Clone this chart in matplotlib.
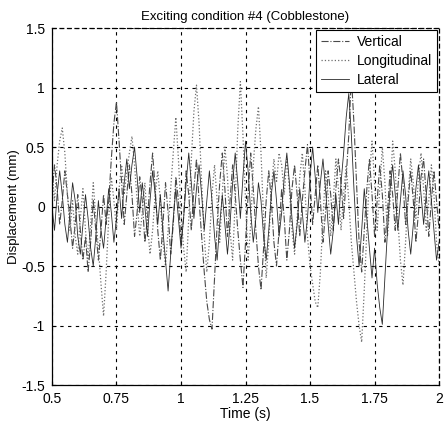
import numpy as np
import matplotlib
matplotlib.use("Agg")
import matplotlib.pyplot as plt

plt.rcParams['font.family'] = ['Liberation Sans Narrow', 'Liberation Sans', 'DejaVu Sans']

####################################################################
# Data (read off the scanned figure, sampled every 0.01 s)
####################################################################
t_start = 0.5
t_step = 0.01

vertical = [
    0.10, 0.35, 0.15, -0.15, 0.05, 0.30, 0.10, -0.10, -0.35, -0.15,
    0.10, -0.20, -0.45, -0.25, -0.55, -0.30, 0.05, -0.20, -0.45, -0.20,
    0.10, -0.15, 0.05, 0.40, 0.70, 0.88, 0.55, 0.20, -0.15, 0.10,
    0.35, 0.10, -0.25, -0.05, 0.25, 0.05, -0.30, -0.10, 0.20, 0.45,
    0.15, -0.20, -0.45, -0.15, 0.20, -0.05, -0.40, -0.15, 0.25, 0.05,
    -0.30, -0.10, 0.30, 0.10, -0.20, 0.15, 0.40, 0.05, -0.25, -0.55,
    -0.80, -0.95, -1.03, -0.60, -0.15, 0.20, 0.45, 0.15, -0.25, 0.05,
    0.35, 0.10, -0.20, -0.45, -0.68, -0.30, 0.10, 0.45, 0.15, -0.20,
    -0.50, -0.70, -0.35, 0.05, 0.30, 0.05, -0.30, -0.50, -0.20, 0.15,
    -0.10, -0.45, -0.20, 0.15, 0.35, 0.10, -0.25, 0.05, 0.30, 0.52,
    0.20, -0.15, 0.10, 0.35, 0.05, -0.30, -0.05, 0.30, 0.10, -0.20,
    0.15, 0.40, 0.20, -0.10, 0.25, 0.60, 1.10, 0.70, 0.20, -0.30,
    -0.55, -0.20, 0.15, 0.40, 0.10, -0.25, 0.05, 0.35, 0.10, -0.30,
    -0.05, 0.30, 0.10, -0.20, 0.15, 0.45, 0.20, -0.15, 0.05, 0.30,
    0.05, -0.30, -0.05, 0.25, 0.40, 0.10, -0.25, 0.05, 0.30, 0.05,
    -0.20,
]

longitudinal = [
    0.30, 0.05, 0.35, 0.55, 0.66, 0.45, 0.10, -0.20, 0.05, -0.25,
    -0.40, -0.10, 0.15, -0.20, -0.45, -0.15, 0.20, -0.10, -0.35, -0.65,
    -0.92, -0.55, -0.10, 0.25, 0.05, -0.20, 0.15, 0.35, 0.10, 0.30,
    0.45, 0.59, 0.35, 0.05, -0.25, -0.05, 0.20, -0.15, -0.40, -0.20,
    0.10, 0.30, 0.05, -0.30, -0.50, -0.20, 0.15, 0.45, 0.75, 0.40,
    -0.05, -0.35, -0.55, -0.10, 0.40, 0.80, 1.02, 0.70, 0.20, -0.25,
    -0.55, -0.30, 0.10, 0.35, 0.05, -0.30, 0.10, 0.50, 0.25, -0.20,
    -0.45, 0.05, 0.65, 1.05, 0.60, 0.05, -0.45, -0.15, 0.35, 0.65,
    0.84, 0.45, -0.10, -0.60, -0.30, 0.15, 0.40, 0.20, 0.45, 0.35,
    0.10, 0.40, 0.15, -0.20, -0.40, -0.10, 0.25, 0.45, 0.15, -0.25,
    -0.50, -0.65, -0.80, -0.85, -0.55, -0.10, 0.30, 0.10, -0.25, 0.05,
    0.40, 0.15, -0.20, 0.10, 0.35, 0.05, -0.30, -0.55, -0.80, -1.00,
    -1.14, -0.70, -0.20, 0.25, 0.55, 0.20, -0.20, 0.15, 0.50, 0.20,
    -0.25, 0.05, 0.55, 0.30, -0.10, -0.45, -0.66, -0.30, 0.10, 0.40,
    0.20, -0.10, 0.25, 0.45, 0.15, -0.20, 0.05, 0.35, 0.10, -0.30,
    -0.50,
]

lateral = [
    0.00, -0.20, 0.10, 0.30, 0.10, -0.15, -0.30, -0.05, 0.20, 0.05,
    -0.25, -0.40, -0.15, 0.10, -0.10, -0.35, -0.50, -0.25, 0.05, -0.20,
    -0.35, -0.10, 0.15, -0.05, -0.30, -0.10, 0.15, -0.10, 0.20, 0.40,
    0.15, 0.35, 0.50, 0.25, -0.05, 0.20, 0.00, -0.25, 0.05, 0.30,
    0.10, -0.15, 0.10, -0.20, -0.45, -0.71, -0.40, -0.10, 0.15, -0.10,
    -0.35, -0.10, 0.20, 0.45, 0.20, -0.10, 0.15, 0.35, 0.10, -0.20,
    0.05, 0.30, 0.05, -0.25, -0.45, -0.15, 0.10, -0.15, -0.40, -0.15,
    0.20, 0.45, 0.20, -0.10, 0.25, 0.55, 0.30, -0.05, -0.30, -0.10,
    0.20, 0.05, -0.25, -0.45, -0.20, 0.10, 0.30, 0.05, -0.25, -0.05,
    0.25, 0.45, 0.20, -0.10, -0.35, -0.15, 0.15, -0.05, -0.30, -0.10,
    0.25, 0.50, 0.25, -0.05, 0.20, 0.40, 0.15, -0.15, -0.40, -0.20,
    0.10, -0.15, 0.20, 0.45, 0.75, 0.95, 0.60, 0.15, -0.25, -0.50,
    -0.20, 0.15, -0.10, -0.35, -0.60, -0.35, -0.65, -0.85, -0.99, -0.60,
    -0.20, 0.15, 0.35, 0.10, -0.20, 0.05, 0.30, 0.10, -0.20, -0.40,
    -0.15, 0.15, 0.35, 0.10, -0.15, 0.10, 0.30, 0.05, -0.20, -0.45,
    -0.30,
]

x_ticks = [0.5, 0.75, 1, 1.25, 1.5, 1.75, 2]
x_tick_labels = ['0.5', '0.75', '1', '1.25', '1.5', '1.75', '2']
y_ticks = [-1.5, -1, -0.5, 0, 0.5, 1, 1.5]
y_tick_labels = ['-1.5', '-1', '-0.5', '0', '0.5', '1', '1.5']

####################################################################
# Plot
####################################################################
t = t_start + t_step * np.arange(len(vertical))

fig = plt.figure(figsize=(4.44, 4.25), dpi=100)
ax = fig.add_axes([0.117, 0.094, 0.872, 0.840])

ax.plot(t, vertical, linestyle='-.', color='#4a4a4a', linewidth=0.8, label='Vertical')
ax.plot(t, longitudinal, linestyle=':', color='#6e6e6e', linewidth=0.9, label='Longitudinal')
ax.plot(t, lateral, linestyle='-', color='#2a2a2a', linewidth=0.6, label='Lateral')

ax.set_xlim(0.5, 2)
ax.set_ylim(-1.5, 1.5)
ax.set_xticks(x_ticks)
ax.set_xticklabels(x_tick_labels)
ax.set_yticks(y_ticks)
ax.set_yticklabels(y_tick_labels)
ax.tick_params(direction='in', length=3, labelsize=10, pad=5)
ax.grid(True, linestyle=(0, (3, 4)), color='black', linewidth=0.8)

for side in ('top', 'right'):
    ax.spines[side].set_linestyle((0, (3, 3)))
for spine in ax.spines.values():
    spine.set_linewidth(0.9)

ax.set_title('Exciting condition #4 (Cobblestone)', fontsize=9.5, pad=6)
ax.set_xlabel('Time (s)', fontsize=10, labelpad=1)
ax.set_ylabel('Displacement (mm)', fontsize=9.5, labelpad=1)

leg = ax.legend(loc='upper right', fontsize=10, fancybox=False, framealpha=1,
                edgecolor='black', handlelength=2.0, borderaxespad=0.15,
                labelspacing=0.35, borderpad=0.35, handletextpad=0.6)
leg.get_frame().set_linewidth(0.8)

fig.savefig('out.png', dpi=100)
